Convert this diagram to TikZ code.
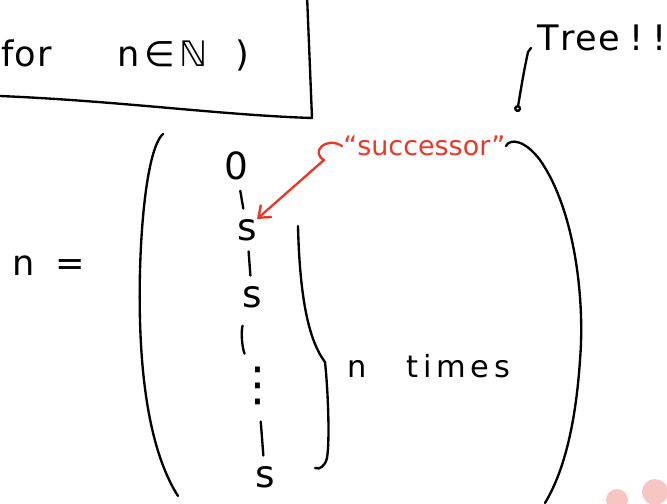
\documentclass[tikz,border=0pt]{standalone}
\usepackage{fontspec}
\setmainfont{DejaVu Sans}
\usetikzlibrary{arrows.meta}
\definecolor{inkred}{RGB}{234,56,40}
\definecolor{blush}{RGB}{248,198,194}
\tikzset{
  ink/.style={line width=2pt, line cap=round, line join=round},
  hand/.style={font=\fontsize{26}{30}\selectfont, inner sep=1pt},
  chain/.style={font=\fontsize{32}{36}\selectfont, inner sep=0pt},
  bond/.style={ink, shorten <=9pt, shorten >=9pt},
}
\begin{document}
\begin{tikzpicture}[x=0.03cm,y=-0.03cm]
  \useasboundingbox (0,0) rectangle (667,504);
  \clip (0,0) rectangle (667,504);
  % box, top left
  \draw[ink] (0,96) .. controls (120,101) and (220,115) .. (312,118) -- (307,-5);
  \node[hand, anchor=west, font=\fontsize{30}{34}\selectfont] (cond) at (-14,55)
    {(f\hspace{1pt}o\hspace{1pt}r\hspace{56pt}n\hspace{4pt}∈\hspace{4pt}ℕ\hspace{24pt})};
  % n =
  \node[hand, font=\fontsize{30}{34}\selectfont] (lhs) at (49,266) {n\hspace{18pt}=};
  % big parentheses
  \draw[ink] (163,134) .. controls (145,150) and (138,250) .. (140,320)
    .. controls (142,400) and (155,460) .. (178,496);
  \draw[ink] (506,146) .. controls (510,138) and (525,140) .. (540,160)
    .. controls (575,210) and (585,300) .. (580,360)
    .. controls (576,420) and (565,470) .. (545,503);
  % the chain
  \node[chain] (z0) at (236,166) {0};
  \node[chain] (s1) at (247,230) {s};
  \node[chain] (s2) at (252,297) {s};
  \node[chain, font=\fontsize{40}{44}\selectfont] (dots) at (258,386) {⋮};
  \node[chain] (s3) at (265,477) {s};
  \draw[bond] (z0) -- (s1);
  \draw[bond] (s1) -- (s2);
  \draw[bond, shorten <=16pt, shorten >=12pt] (s2) to[bend right=20] (dots);
  \draw[bond, shorten <=14pt] (dots) -- (s3);
  % brace
  \draw[ink] (298,226) .. controls (300,310) and (312,345) .. (325,362)
    .. controls (328,390) and (330,440) .. (327,458)
    .. controls (325,466) and (320,470) .. (315,468);
  \node[hand, anchor=west] (count) at (346,366)
    {n\hspace{34pt}t\hspace{4pt}i\hspace{4pt}m\hspace{4pt}e\hspace{4pt}s};
  % labels
  \node[hand, text=inkred, anchor=west, font=\fontsize{23}{27}\selectfont] (succ) at (342,146) {``successor''};
  \draw[ink, inkred, -{Straight Barb[length=9pt,width=14pt]}] (succ.west)
    .. controls (326,136) and (310,152) .. (324,160) -- (s1.north east);
  \node[hand, anchor=west, font=\fontsize{30}{34}\selectfont] (tree) at (536,38)
    {T\hspace{1pt}r\hspace{1pt}e\hspace{1pt}e\hspace{8pt}!\hspace{8pt}!};
  \coordinate (root) at (517,112);
  \draw[ink, -{Circle[open,length=6pt]}] (531,48) -- (528,52) .. controls (523,75) and (520,95) .. (root);
  % smudges
  \fill[blush] (617,500) circle (11);
  \fill[blush] (655,492) circle (13);
\end{tikzpicture}
\end{document}
